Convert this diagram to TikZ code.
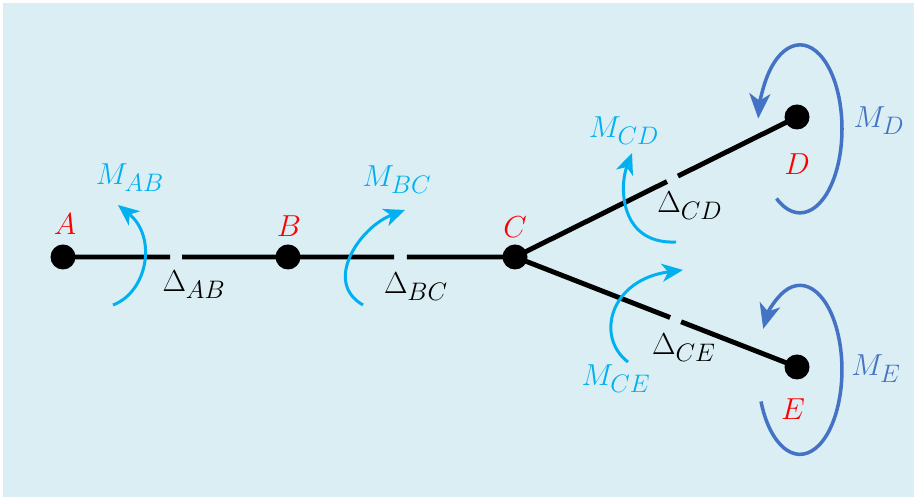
\documentclass[tikz,border=0pt]{standalone}
\usepackage{amsmath}
\usepackage{amssymb}
\usepackage{xcolor}
\usepackage{tikz}
\usetikzlibrary{arrows.meta}
\usetikzlibrary{calc}

\DeclareMathSizes{19}{19}{15}{12}
\definecolor{bgaqua}{HTML}{DAEEF3}
\definecolor{momlight}{HTML}{00B0F0}
\definecolor{momdark}{HTML}{4472C4}

\begin{document}
\begin{tikzpicture}[
        joint/.style = {circle, fill = black, inner sep = 0pt, minimum size = 0.5cm},
        member/.style = {line width = 2.8pt},
        jointname/.style = {red, font = \fontsize{19}{22}\selectfont},
        momname/.style = {momlight, font = \fontsize{19}{22}\selectfont},
        extname/.style = {momdark, font = \fontsize{19}{22}\selectfont},
        deltaname/.style = {black, font = \fontsize{19}{22}\selectfont},
        momarc/.style = {momlight, line width = 1.7pt, -{Stealth[length = 0.42cm, width = 0.36cm, inset = 0.12cm]}},
        extarc/.style = {momdark, line width = 2pt, -{Stealth[length = 0.5cm, width = 0.42cm, inset = 0.14cm]}}
    ]
        \useasboundingbox (0, 0) rectangle (18.28, 9.94);
        \fill[bgaqua] (0.06, 0) rectangle (18.28, 9.88);

        \node[joint] (A) at (1.26, 4.80) {};
        \node[joint] (B) at (5.76, 4.80) {};
        \node[joint] (C) at (10.30, 4.80) {};
        \node[joint] (D) at (15.94, 7.60) {};
        \node[joint] (E) at (15.94, 2.60) {};

        \coordinate (AB1) at ($(A)!0.476!(B)$);
        \coordinate (AB2) at ($(A)!0.529!(B)$);
        \coordinate (BC1) at ($(B)!0.467!(C)$);
        \coordinate (BC2) at ($(B)!0.524!(C)$);
        \coordinate (CD1) at ($(C)!0.539!(D)$);
        \coordinate (CD2) at ($(C)!0.578!(D)$);
        \coordinate (CE1) at ($(C)!0.550!(E)$);
        \coordinate (CE2) at ($(C)!0.589!(E)$);

        \draw[member] (A.center) -- (AB1);
        \draw[member] (AB2) -- (B.center);
        \draw[member] (B.center) -- (BC1);
        \draw[member] (BC2) -- (C.center);
        \draw[member] (C.center) -- (CD1);
        \draw[member] (CD2) -- (D.center);
        \draw[member] (C.center) -- (CE1);
        \draw[member] (CE2) -- (E.center);

        \node[jointname] (lA) at (1.30, 5.46) {$A$};
        \node[jointname] (lB) at (5.78, 5.42) {$B$};
        \node[jointname] (lC) at (10.30, 5.40) {$C$};
        \node[jointname] (lD) at (15.94, 6.66) {$D$};
        \node[jointname] (lE) at (15.86, 1.76) {$E$};

        \node[deltaname] (dAB) at (3.88, 4.24) {$\Delta_{AB}$};
        \node[deltaname] (dBC) at (8.32, 4.20) {$\Delta_{BC}$};
        \node[deltaname] (dCD) at (13.80, 5.82) {$\Delta_{CD}$};
        \node[deltaname] (dCE) at (13.68, 2.98) {$\Delta_{CE}$};

        \draw[momarc] (2.26, 3.84) .. controls (2.95, 4.10) and (3.15, 5.20) .. (2.36, 5.84);
        \draw[momarc] (7.26, 3.84) .. controls (6.45, 4.30) and (7.20, 5.40) .. (8.10, 5.74);
        \draw[momarc] (13.52, 5.10) .. controls (12.40, 5.05) and (12.38, 6.20) .. (12.64, 6.88);
        \draw[momarc] (12.56, 2.70) .. controls (11.90, 3.20) and (12.20, 4.35) .. (13.66, 4.54);

        \node[momname] (mAB) at (2.60, 6.38) {$M_{AB}$};
        \node[momname] (mBC) at (7.94, 6.34) {$M_{BC}$};
        \node[momname] (mCD) at (12.48, 7.32) {$M_{CD}$};
        \node[momname] (mCE) at (12.32, 2.36) {$M_{CE}$};

        \draw[extarc] ([shift = {(-0.41, -1.63)}]D.center)
            arc[start angle = -124, end angle = 173, x radius = 0.84, y radius = 1.68];
        \draw[extarc] ([shift = {(-0.72, -0.69)}]E.center)
            arc[start angle = -158, end angle = 151, x radius = 0.84, y radius = 1.69];

        \node[extname] (mD) at (17.58, 7.52) {$M_D$};
        \node[extname] (mE) at (17.52, 2.56) {$M_E$};
\end{tikzpicture}
\end{document}
